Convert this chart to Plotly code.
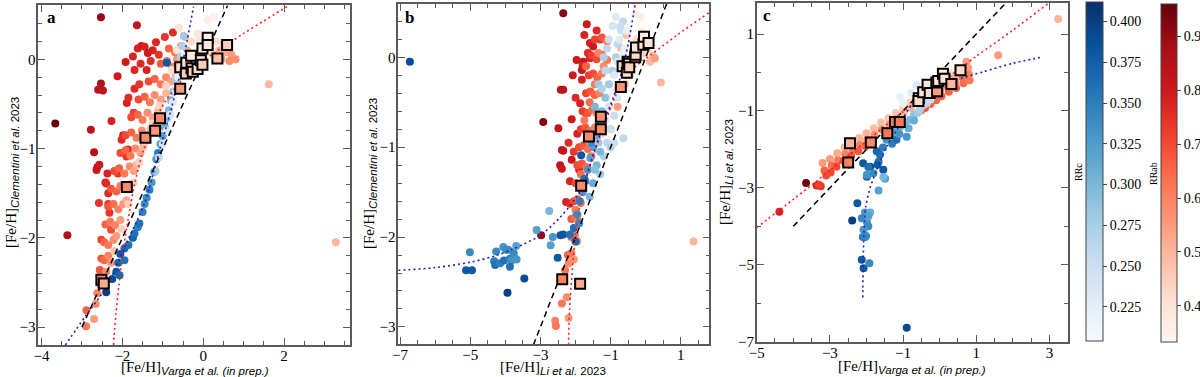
import plotly.graph_objects as go
import plotly.colors as pc

# ---------------- data (x, y, period) ----------------
# Panel a: [Fe/H] Varga vs Clementini
a_rrab = [
    (-2.53, 0.47, 0.90), (-1.64, 0.38, 0.82), (-3.66, -0.72, 0.96), (-3.36, -1.97, 0.86), (-2.78, -0.79, 0.84),
    (-2.70, -1.04, 0.84), (-2.62, -1.21, 0.83), (-2.57, -1.18, 0.80), (-2.53, -0.27, 0.86), (-2.60, -0.34, 0.84),
    (-2.48, -0.35, 0.83), (-1.92, -0.03, 0.80), (-2.12, -0.19, 0.80), (-2.27, -0.69, 0.78), (-2.42, -1.38, 0.78),
    (-2.58, -1.61, 0.74), (-2.37, -1.28, 0.78), (-1.74, 0.03, 0.78), (-1.70, -0.12, 0.77), (-1.62, 0.12, 0.78),
    (-1.53, 0.15, 0.80), (-1.45, 0.14, 0.78), (-1.37, 0.07, 0.80), (-1.25, 0.10, 0.78), (-1.17, 0.19, 0.77),
    (-1.30, -0.02, 0.76), (-1.40, -0.12, 0.78), (-1.89, -0.49, 0.78), (-1.85, -0.43, 0.76), (-1.70, -0.33, 0.76),
    (-1.58, -0.28, 0.74), (-1.98, -0.85, 0.78), (-2.02, -0.90, 0.76), (-1.86, -1.01, 0.76), (-1.90, -1.09, 0.74),
    (-2.11, -1.28, 0.74), (-2.35, -1.50, 0.76), (-2.35, -1.62, 0.74), (-0.75, 0.30, 0.76), (-1.72, -0.60, 0.72),
    (-2.64, -1.24, 0.80), (-2.40, -1.39, 0.76), (-2.32, -1.72, 0.74), (-2.52, -2.02, 0.72), (-2.28, -1.91, 0.70),
    (-2.52, -2.23, 0.68), (-2.56, -2.36, 0.68), (-0.95, 0.25, 0.74), (-1.10, 0.05, 0.74), (-1.55, -0.05, 0.76),
    (-2.45, -2.45, 0.62), (-2.40, -2.38, 0.58),
    (-2.45, -2.25, 0.65), (-2.35, -2.20, 0.60), (-2.28, -2.28, 0.56),
    (-2.45, -2.05, 0.66), (-2.35, -2.08, 0.62), (-2.22, -2.02, 0.58), (-2.15, -1.98, 0.55),
    (-2.42, -1.85, 0.66), (-2.30, -1.82, 0.62), (-2.18, -1.86, 0.60), (-2.05, -1.80, 0.55),
    (-2.35, -1.65, 0.68), (-2.22, -1.62, 0.64), (-2.10, -1.68, 0.60), (-1.98, -1.62, 0.56), (-1.90, -1.58, 0.52),
    (-2.28, -1.45, 0.68), (-2.15, -1.48, 0.66), (-2.05, -1.42, 0.62), (-1.95, -1.45, 0.58), (-1.82, -1.40, 0.52),
    (-2.20, -1.25, 0.70), (-2.08, -1.22, 0.66), (-1.95, -1.28, 0.62), (-1.82, -1.20, 0.58), (-1.72, -1.25, 0.54),
    (-1.65, -1.18, 0.50),
    (-2.05, -1.05, 0.70), (-1.92, -1.02, 0.66), (-1.80, -1.08, 0.62), (-1.68, -1.00, 0.58), (-1.55, -1.05, 0.54),
    (-1.48, -0.98, 0.50),
    (-1.92, -0.85, 0.70), (-1.78, -0.82, 0.66), (-1.65, -0.88, 0.62), (-1.52, -0.80, 0.58), (-1.40, -0.85, 0.54),
    (-1.30, -0.78, 0.50),
    (-1.78, -0.65, 0.70), (-1.62, -0.62, 0.66), (-1.50, -0.68, 0.62), (-1.38, -0.60, 0.58), (-1.25, -0.65, 0.54),
    (-1.12, -0.58, 0.50),
    (-1.60, -0.45, 0.70), (-1.45, -0.42, 0.66), (-1.32, -0.48, 0.62), (-1.20, -0.40, 0.58), (-1.05, -0.45, 0.54),
    (-0.92, -0.38, 0.50),
    (-1.35, -0.25, 0.70), (-1.20, -0.22, 0.66), (-1.05, -0.28, 0.62), (-0.92, -0.20, 0.58), (-0.80, -0.25, 0.54),
    (-0.68, -0.18, 0.50),
    (-1.05, -0.05, 0.68), (-0.90, -0.02, 0.64), (-0.78, -0.08, 0.60), (-0.65, 0.00, 0.56), (-0.50, -0.05, 0.52),
    (-0.35, 0.00, 0.48),
    (-0.85, 0.12, 0.66), (-0.70, 0.08, 0.62), (-0.55, 0.15, 0.58), (-0.40, 0.10, 0.52),
    (-2.20, -2.15, 0.48), (-2.02, -1.90, 0.45), (-1.85, -1.62, 0.45), (-1.72, -1.38, 0.44), (-1.58, -1.15, 0.44),
    (-1.42, -0.92, 0.44), (-1.25, -0.72, 0.44), (-1.08, -0.52, 0.44), (-0.92, -0.30, 0.44), (-0.78, -0.12, 0.42),
    (-0.65, 0.10, 0.40), (-0.60, 0.35, 0.40),
    (-0.20, 0.05, 0.45), (0.05, 0.08, 0.42), (0.25, 0.05, 0.45), (0.40, 0.10, 0.50), (0.55, 0.08, 0.52),
    (0.70, 0.05, 0.55), (0.80, 0.00, 0.58), (0.65, -0.02, 0.58), (0.45, 0.00, 0.55), (0.15, 0.18, 0.40),
    (-0.10, 0.22, 0.38), (0.30, 0.20, 0.42), (0.50, 0.18, 0.48), (-0.14, 0.29, 0.38), (0.11, 0.44, 0.36),
    (0.27, 0.48, 0.35), (-0.30, 0.20, 0.42), (-0.45, 0.25, 0.50), (0.00, -0.08, 0.48), (-0.15, -0.10, 0.50),
    (-2.90, -2.99, 0.62), (-2.89, -2.81, 0.66), (-2.66, -2.74, 0.58), (-2.70, -2.91, 0.55), (-2.62, -2.62, 0.60),
    (-2.55, -2.52, 0.64), (1.62, -0.28, 0.50), (3.28, -2.05, 0.50),
]
a_rrc = [
    (-2.40, -2.61, 0.40), (-2.25, -2.46, 0.39), (-2.15, -2.38, 0.38), (-2.07, -2.42, 0.37), (-2.10, -2.28, 0.37),
    (-1.95, -2.25, 0.36), (-2.05, -2.18, 0.38), (-1.95, -2.12, 0.37), (-1.85, -2.08, 0.36), (-1.74, -2.00, 0.37),
    (-1.70, -1.95, 0.36), (-1.62, -1.88, 0.35), (-1.58, -1.84, 0.36), (-1.50, -1.71, 0.35), (-1.45, -1.62, 0.34),
    (-1.40, -1.55, 0.34), (-1.33, -1.46, 0.35), (-1.28, -1.38, 0.33), (-1.21, -1.26, 0.34), (-1.16, -1.12, 0.33),
    (-1.12, -1.05, 0.35), (-1.06, -0.95, 0.32), (-1.00, -0.86, 0.32), (-0.95, -0.76, 0.31), (-0.90, -0.66, 0.30),
    (-0.85, -0.57, 0.30), (-0.80, -0.46, 0.30), (-0.74, -0.36, 0.29), (-0.67, -0.23, 0.28), (-0.60, -0.10, 0.28),
    (-0.55, 0.03, 0.27), (-0.52, 0.15, 0.27), (-0.48, 0.26, 0.28), (-0.90, -0.04, 0.38),
    (-1.00, -0.95, 0.24), (-0.90, -0.80, 0.23), (-0.82, -0.62, 0.24), (-0.75, -0.48, 0.23), (-0.68, -0.35, 0.24),
    (-0.62, -0.20, 0.22), (-0.55, -0.08, 0.23), (-0.45, 0.05, 0.22), (-1.10, -1.10, 0.26), (-1.18, -1.25, 0.28),
]
a_squares = [
    (-2.52, -2.47, 0.60), (-2.46, -2.51, 0.52), (-1.89, -1.43, 0.58), (-1.43, -0.88, 0.58), (-1.19, -0.80, 0.56),
    (-1.07, -0.66, 0.58), (-0.57, -0.33, 0.55), (-0.57, -0.09, 0.42), (-0.43, -0.16, 0.45), (-0.42, -0.04, 0.40),
    (-0.30, 0.04, 0.38), (-0.29, -0.10, 0.42), (-0.26, -0.14, 0.45), (-0.14, -0.11, 0.42), (-0.06, -0.01, 0.38),
    (-0.02, -0.06, 0.45), (-0.02, 0.12, 0.38), (0.11, 0.24, 0.36), (0.11, 0.16, 0.38), (0.35, 0.01, 0.48),
    (0.59, 0.16, 0.45),
]
a_fit_ab = [(-2.22, -3.2), (-2.16, -2.85), (-2.09, -2.55), (-1.99, -2.17), (-1.86, -1.80), (-1.70, -1.40),
            (-1.50, -1.05), (-1.25, -0.74), (-0.95, -0.48), (-0.60, -0.27), (-0.20, -0.08), (0.20, 0.05),
            (0.60, 0.17), (1.00, 0.29), (1.50, 0.43), (2.07, 0.59)]
a_fit_c = [(-3.41, -3.2), (-2.92, -2.88), (-2.40, -2.55), (-1.86, -2.02), (-1.45, -1.61), (-1.12, -1.08),
           (-0.80, -0.57), (-0.51, -0.04), (-0.24, 0.59)]
a_one2one = [(-3.0, -3.0), (0.6, 0.6)]

# Panel b: [Fe/H] Li vs Clementini
b_rrab = [
    (-2.35, 0.49, 0.92), (-1.68, 0.37, 0.80), (-1.97, -0.03, 0.80), (-1.78, -0.05, 0.82), (-1.59, -0.01, 0.78),
    (-1.59, 0.16, 0.78), (-1.50, 0.12, 0.80), (-1.80, -0.09, 0.78), (-1.82, -0.14, 0.80), (-2.08, -0.20, 0.80),
    (-1.82, -0.25, 0.78), (-2.35, -0.36, 0.82), (-2.42, -0.36, 0.84), (-2.92, -0.72, 0.93), (-2.49, -0.79, 0.82),
    (-2.11, -0.69, 0.80), (-1.87, -0.51, 0.78), (-2.39, -1.03, 0.80), (-2.35, -1.04, 0.82), (-2.11, -1.14, 0.80),
    (-2.44, -1.20, 0.82), (-2.39, -1.24, 0.80), (-2.16, -1.38, 0.78), (-2.27, -1.61, 0.78), (-2.16, -1.63, 0.76),
    (-2.98, -1.98, 0.90), (-1.75, 0.25, 0.78), (-1.65, 0.05, 0.76), (-2.00, -0.45, 0.76), (-1.95, -0.85, 0.78),
    (-2.20, -0.95, 0.76), (-1.90, -1.25, 0.76), (-1.70, -0.62, 0.76), (-1.40, 0.30, 0.76), (-1.30, 0.20, 0.74),
    (-2.05, -1.05, 0.74),
    (-1.45, 0.20, 0.72), (-1.25, 0.22, 0.68), (-1.10, 0.18, 0.62),
    (-1.55, 0.02, 0.72), (-1.40, -0.02, 0.70), (-1.25, 0.03, 0.66), (-1.10, -0.03, 0.62),
    (-1.62, -0.20, 0.72), (-1.50, -0.18, 0.70), (-1.38, -0.22, 0.66), (-1.25, -0.18, 0.62),
    (-1.70, -0.40, 0.72), (-1.58, -0.38, 0.68), (-1.45, -0.42, 0.66), (-1.32, -0.40, 0.60),
    (-1.80, -0.60, 0.72), (-1.65, -0.62, 0.68), (-1.52, -0.58, 0.64), (-1.40, -0.62, 0.60),
    (-1.85, -0.80, 0.72), (-1.72, -0.78, 0.68), (-1.58, -0.82, 0.64), (-1.45, -0.78, 0.60),
    (-1.90, -1.00, 0.70), (-1.78, -0.98, 0.68), (-1.65, -1.02, 0.64), (-1.52, -0.98, 0.60),
    (-1.95, -1.20, 0.70), (-1.82, -1.18, 0.68), (-1.70, -1.22, 0.64),
    (-2.00, -1.40, 0.70), (-1.90, -1.42, 0.66), (-1.78, -1.38, 0.62),
    (-2.05, -1.60, 0.70), (-1.95, -1.58, 0.66), (-1.85, -1.62, 0.62),
    (-2.12, -1.80, 0.68), (-2.02, -1.78, 0.64), (-1.92, -1.82, 0.60),
    (-2.12, -2.00, 0.66), (-2.02, -1.98, 0.62), (-1.95, -2.05, 0.56),
    (-2.22, -2.20, 0.66), (-2.12, -2.18, 0.62), (-2.05, -2.25, 0.56),
    (-1.70, -0.10, 0.66), (-1.60, -0.50, 0.64), (-1.75, -0.70, 0.62), (-1.85, -1.30, 0.64), (-1.65, -0.90, 0.60),
    (-1.55, -1.10, 0.62), (-2.00, -1.70, 0.62), (-1.45, -0.30, 0.62), (-1.35, 0.05, 0.60), (-1.20, -0.10, 0.58),
    (-2.30, -2.37, 0.62), (-2.20, -2.29, 0.58), (-2.39, -2.74, 0.62), (-2.58, -2.93, 0.60), (-2.56, -2.99, 0.62),
    (-2.20, -2.90, 0.55), (-2.25, -2.67, 0.58),
    (-0.26, 0.20, 0.42), (-0.10, 0.28, 0.40), (0.05, 0.10, 0.45), (0.20, 0.02, 0.48), (0.12, -0.05, 0.50),
    (-0.05, 0.05, 0.45), (-0.30, 0.48, 0.38), (-0.15, 0.45, 0.36), (-0.45, -0.20, 0.50), (-0.60, -0.30, 0.52),
    (-0.80, -0.55, 0.55), (-1.00, -0.80, 0.55), (-0.70, 0.10, 0.50), (-0.55, 0.25, 0.48), (0.26, -0.01, 0.55),
    (0.43, -0.28, 0.50), (1.36, -2.05, 0.50),
]
b_rrc = [
    (-6.72, -0.05, 0.39),
    (-5.12, -2.37, 0.38), (-4.95, -2.37, 0.38), (-5.01, -2.17, 0.34), (-4.26, -2.16, 0.34), (-4.32, -2.27, 0.35),
    (-4.29, -2.31, 0.36), (-4.06, -2.11, 0.33), (-3.98, -2.14, 0.34), (-3.92, -2.14, 0.34), (-4.15, -2.29, 0.35),
    (-4.04, -2.26, 0.36), (-3.87, -2.24, 0.35), (-3.82, -2.26, 0.33), (-3.72, -2.24, 0.33), (-3.69, -2.10, 0.32),
    (-3.87, -2.33, 0.36), (-3.76, -2.18, 0.34), (-3.68, -2.25, 0.33), (-3.46, -2.46, 0.39), (-3.94, -2.62, 0.40),
    (-2.75, -1.71, 0.30), (-3.11, -1.92, 0.32), (-2.65, -2.00, 0.33), (-2.71, -2.09, 0.32), (-2.43, -1.98, 0.38),
    (-2.35, -1.97, 0.38), (-2.16, -1.97, 0.36), (-2.51, -2.23, 0.38), (-1.84, -1.09, 0.38),
    (-2.05, -1.90, 0.36), (-1.95, -1.75, 0.34), (-1.88, -1.60, 0.35), (-1.80, -1.50, 0.33), (-1.72, -1.38, 0.34),
    (-1.65, -1.25, 0.33), (-1.58, -1.12, 0.32), (-1.50, -1.00, 0.32), (-1.42, -0.88, 0.31), (-1.35, -0.75, 0.30),
    (-1.25, -0.60, 0.30), (-1.15, -0.45, 0.29), (-1.05, -0.30, 0.28), (-0.95, -0.15, 0.27), (-0.85, 0.00, 0.27),
    (-0.80, 0.15, 0.26), (-0.70, 0.30, 0.25), (-0.65, 0.40, 0.26),
    (-1.30, -1.30, 0.28), (-1.20, -1.10, 0.27), (-1.10, -0.95, 0.26), (-1.00, -0.80, 0.25), (-0.90, -0.65, 0.25),
    (-0.82, -0.45, 0.24), (-0.75, -0.30, 0.23), (-0.68, -0.10, 0.23), (-0.60, 0.10, 0.22), (-0.55, 0.30, 0.22),
    (-0.64, -0.90, 0.26), (-1.60, -1.55, 0.30), (-1.50, -1.40, 0.31), (-1.40, -1.20, 0.30), (-1.30, -1.05, 0.30),
    (-1.90, -1.85, 0.34), (-2.00, -2.05, 0.37), (-1.75, -1.35, 0.36), (-1.55, -0.95, 0.34), (-1.45, -0.55, 0.30),
    (-1.35, -0.30, 0.28), (-1.20, 0.00, 0.27), (-1.05, 0.20, 0.25), (-0.73, 0.34, 0.25), (-1.11, 0.10, 0.26),
    (-1.25, -0.85, 0.24), (-1.15, -0.70, 0.23), (-1.05, -0.55, 0.24), (-0.95, -0.40, 0.22), (-0.90, -0.20, 0.23),
    (-0.80, -0.05, 0.24), (-0.75, 0.20, 0.23), (-0.65, 0.05, 0.22), (-1.45, -1.25, 0.29), (-1.35, -0.95, 0.28),
    (-1.25, -0.35, 0.27), (-1.15, -0.15, 0.26), (-0.95, 0.35, 0.24), (-0.85, 0.45, 0.23), (-1.00, -1.00, 0.27),
    (-0.90, -0.95, 0.25),
]
b_squares = [
    (-2.38, -2.47, 0.60), (-1.87, -2.52, 0.52), (-1.84, -1.43, 0.58), (-1.62, -0.88, 0.58), (-1.28, -0.80, 0.58),
    (-1.28, -0.66, 0.58), (-0.71, -0.33, 0.56), (-0.66, -0.10, 0.42), (-0.52, -0.05, 0.42), (-0.54, -0.17, 0.42),
    (-0.48, -0.07, 0.44), (-0.47, -0.11, 0.45), (-0.30, 0.00, 0.48), (-0.29, 0.03, 0.42), (-0.28, 0.11, 0.40),
    (-0.07, 0.14, 0.40), (-0.05, 0.23, 0.36), (0.08, 0.16, 0.40),
]
b_fit_ab = [(-2.20, -3.2), (-2.17, -2.8), (-2.12, -2.5), (-2.02, -2.05), (-1.88, -1.65), (-1.72, -1.38),
            (-1.45, -1.05), (-1.15, -0.72), (-0.83, -0.40), (-0.40, -0.14), (0.15, 0.03), (0.90, 0.25), (1.81, 0.50)]
b_fit_c = [(-7.05, -2.37), (-6.0, -2.34), (-5.0, -2.28), (-4.3, -2.21), (-3.77, -2.13), (-3.0, -1.98),
           (-2.44, -1.78), (-2.0, -1.57), (-1.78, -1.42), (-1.45, -1.02), (-1.11, -0.64), (-0.73, -0.23),
           (-0.50, 0.15), (-0.30, 0.60)]
b_one2one = [(-3.2, -3.2), (0.6, 0.6)]

# Panel c: [Fe/H] Varga vs Li
c_rrab = [
    (-4.38, -3.62, 0.78), (-3.65, -2.87, 0.95), (-3.36, -2.94, 0.78), (-3.25, -2.96, 0.75), (-3.30, -2.92, 0.72),
    (-3.20, -2.35, 0.55), (-3.15, -2.55, 0.66), (-3.10, -2.68, 0.70),
    (-3.00, -2.25, 0.55), (-2.95, -2.42, 0.64), (-2.98, -2.60, 0.70),
    (-2.80, -2.10, 0.52), (-2.78, -2.28, 0.62), (-2.82, -2.45, 0.70),
    (-2.60, -1.95, 0.50), (-2.58, -2.12, 0.60), (-2.62, -2.30, 0.68),
    (-2.40, -1.85, 0.52), (-2.38, -2.02, 0.62), (-2.42, -2.18, 0.68),
    (-2.20, -1.70, 0.50), (-2.18, -1.88, 0.60), (-2.22, -2.05, 0.68),
    (-2.00, -1.58, 0.50), (-1.98, -1.75, 0.58), (-2.02, -1.92, 0.66),
    (-1.80, -1.45, 0.48), (-1.78, -1.62, 0.58), (-1.82, -1.78, 0.66),
    (-1.60, -1.30, 0.48), (-1.58, -1.48, 0.58),
    (-1.40, -1.18, 0.46), (-1.38, -1.35, 0.55),
    (-1.20, -1.05, 0.46), (-1.18, -1.20, 0.52),
    (-1.00, -0.92, 0.45), (-0.98, -1.05, 0.50),
    (-0.80, -0.78, 0.45), (-0.78, -0.92, 0.50),
    (-0.60, -0.65, 0.45), (-0.50, -0.98, 0.66), (-0.40, -0.92, 0.68),
    (-0.40, -0.52, 0.48), (-0.38, -0.68, 0.55), (-0.25, -0.82, 0.66),
    (-0.20, -0.40, 0.50), (-0.18, -0.58, 0.58), (-0.10, -0.72, 0.66),
    (0.00, -0.30, 0.50), (0.02, -0.45, 0.58), (0.05, -0.62, 0.66),
    (0.20, -0.18, 0.52), (0.22, -0.35, 0.60), (0.25, -0.50, 0.66),
    (0.40, -0.08, 0.52), (0.42, -0.25, 0.62), (0.45, -0.40, 0.66),
    (0.60, 0.05, 0.52), (0.62, -0.12, 0.62), (0.65, -0.28, 0.64),
    (0.78, 0.12, 0.55), (0.80, -0.05, 0.60), (0.82, -0.20, 0.62),
    (0.73, 0.28, 0.55), (1.60, 0.45, 0.55), (3.24, 1.39, 0.50), (0.50, 0.10, 0.45), (0.25, 0.00, 0.42),
]
c_rrc = [
    (-1.63, -2.14, 0.36), (-1.54, -2.53, 0.38), (-1.90, -2.45, 0.39), (-1.99, -2.71, 0.37), (-1.49, -2.76, 0.32),
    (-1.45, -1.75, 0.33), (-1.30, -1.85, 0.35), (-1.18, -1.75, 0.36), (-0.90, -1.67, 0.33), (-1.08, -1.41, 0.31),
    (-1.25, -1.55, 0.32), (-1.40, -1.60, 0.34), (-0.95, -1.30, 0.30), (-0.81, -1.23, 0.30), (-0.70, -1.10, 0.29),
    (-0.60, -1.05, 0.28), (-0.54, -0.97, 0.27), (-0.45, -0.85, 0.27), (-0.35, -0.80, 0.26), (-0.25, -0.70, 0.25),
    (-0.70, -1.25, 0.31), (-1.10, -1.60, 0.33), (-1.55, -1.95, 0.35), (-1.72, -2.05, 0.37), (-1.00, -0.80, 0.22),
    (-0.77, -0.54, 0.23), (-0.63, -0.33, 0.23), (-1.08, -0.63, 0.22), (-0.45, -0.40, 0.22), (-0.85, -1.45, 0.31),
    (-2.09, -2.36, 0.38), (-1.95, -2.46, 0.36), (-1.99, -2.66, 0.33), (-1.81, -2.62, 0.34), (-1.67, -2.32, 0.36),
    (-1.70, -2.40, 0.38), (-1.54, -2.72, 0.30), (-1.67, -3.07, 0.32), (-2.25, -3.40, 0.38), (-2.39, -3.85, 0.40),
    (-2.04, -3.64, 0.33), (-1.90, -3.64, 0.31), (-2.13, -3.79, 0.34), (-1.99, -3.88, 0.33), (-1.95, -4.00, 0.34),
    (-2.08, -4.09, 0.33), (-2.04, -4.28, 0.36), (-2.10, -4.28, 0.35), (-2.01, -4.25, 0.34), (-2.13, -4.87, 0.38),
    (-2.08, -5.09, 0.38), (-1.92, -4.96, 0.34), (-1.95, -3.74, 0.32), (-0.90, -6.64, 0.39),
]
c_squares = [
    (-2.45, -1.84, 0.50), (-2.50, -2.34, 0.60), (-1.88, -1.82, 0.58), (-1.43, -1.58, 0.62), (-1.22, -1.29, 0.62),
    (-1.09, -1.29, 0.62), (-0.57, -0.67, 0.40), (-0.58, -0.74, 0.42), (-0.45, -0.51, 0.40), (-0.33, -0.32, 0.38),
    (-0.27, -0.53, 0.42), (-0.07, -0.49, 0.55), (-0.09, -0.26, 0.40), (-0.04, -0.22, 0.38), (0.09, -0.03, 0.36),
    (0.13, -0.16, 0.40), (0.32, -0.30, 0.50), (0.57, 0.06, 0.42),
]
c_fit_ab = [(-5.0, -4.03), (-4.0, -3.30), (-3.0, -2.55), (-2.0, -1.78), (-1.0, -1.02), (0.0, -0.30),
            (1.0, 0.42), (2.0, 1.10), (2.97, 1.80)]
c_fit_c = [(-2.10, -5.85), (-2.09, -5.0), (-2.07, -4.2), (-2.02, -3.5), (-1.90, -3.0), (-1.72, -2.53),
           (-1.45, -1.93), (-1.17, -1.49), (-0.86, -0.97), (-0.54, -0.63), (0.0, -0.37), (0.46, -0.19),
           (1.2, 0.02), (2.0, 0.24), (2.74, 0.39)]
c_one2one = [(-4.0, -4.0), (1.8, 1.8)]

rrc_ticks = [0.225, 0.250, 0.275, 0.300, 0.325, 0.350, 0.375, 0.400]
rrab_ticks = [0.4, 0.5, 0.6, 0.7, 0.8, 0.9]

# ---------------- figure ----------------
W, H = 1200, 377
SERIF = "Liberation Serif"
FRAME = "#5a5a5a"

fig = go.Figure()


def px_x(p):
    return p / W


def px_y(p):
    return 1 - p / H


panels = [
    dict(pts=(a_rrab, a_rrc, a_squares, a_fit_ab, a_fit_c, a_one2one), xa="x", ya="y"),
    dict(pts=(b_rrab, b_rrc, b_squares, b_fit_ab, b_fit_c, b_one2one), xa="x2", ya="y2"),
    dict(pts=(c_rrab, c_rrc, c_squares, c_fit_ab, c_fit_c, c_one2one), xa="x3", ya="y3"),
]

for pnl in panels:
    rrab, rrc, sq, fab, fc, one = pnl["pts"]
    xa, ya = pnl["xa"], pnl["ya"]
    fig.add_trace(go.Scatter(
        x=[p[0] for p in rrab], y=[p[1] for p in rrab], mode="markers", xaxis=xa, yaxis=ya,
        marker=dict(size=8, color=[p[2] for p in rrab], coloraxis="coloraxis", line=dict(width=0)),
        hoverinfo="skip"))
    fig.add_trace(go.Scatter(
        x=[p[0] for p in rrc], y=[p[1] for p in rrc], mode="markers", xaxis=xa, yaxis=ya,
        marker=dict(size=8, color=[p[2] for p in rrc], coloraxis="coloraxis2", line=dict(width=0)),
        hoverinfo="skip"))
    fig.add_trace(go.Scatter(
        x=[p[0] for p in one], y=[p[1] for p in one], mode="lines", xaxis=xa, yaxis=ya,
        line=dict(color="black", width=1.5, dash="6px,4px"), hoverinfo="skip"))
    fig.add_trace(go.Scatter(
        x=[p[0] for p in fab], y=[p[1] for p in fab], mode="lines", xaxis=xa, yaxis=ya,
        line=dict(color="#ff2020", width=1.6, dash="2px,3px", shape="spline", smoothing=0.8), hoverinfo="skip"))
    fig.add_trace(go.Scatter(
        x=[p[0] for p in fc], y=[p[1] for p in fc], mode="lines", xaxis=xa, yaxis=ya,
        line=dict(color="#2323b8", width=1.6, dash="2px,3px", shape="spline", smoothing=0.8), hoverinfo="skip"))
    fig.add_trace(go.Scatter(
        x=[p[0] for p in sq], y=[p[1] for p in sq], mode="markers", xaxis=xa, yaxis=ya,
        marker=dict(symbol="square", size=10, color=[p[2] for p in sq], coloraxis="coloraxis",
                    line=dict(width=2, color="black")),
        hoverinfo="skip"))


def axis(dom, rng, tick0, dtick, minor, anchor, standoff):
    return dict(domain=dom, range=rng, anchor=anchor, tickmode="linear", tick0=tick0, dtick=dtick,
                automargin=False, ticklabelstandoff=standoff,
                ticks="inside", ticklen=7, tickwidth=1, tickcolor=FRAME, showline=True, linecolor=FRAME,
                linewidth=1.6, mirror="allticks", showgrid=False, zeroline=False,
                minor=dict(ticks="inside", ticklen=4, tickwidth=1, tickcolor=FRAME, dtick=minor, tick0=tick0),
                tickfont=dict(family=SERIF, size=15, color="black"))


fig.update_layout(
    template="none",
    width=W, height=H, margin=dict(l=0, r=0, t=0, b=0, autoexpand=False),
    paper_bgcolor="white", plot_bgcolor="white", showlegend=False,
    xaxis=axis([px_x(38.3), px_x(350)], [-4.08, 3.63], -4, 2, 0.5, "y", -4),
    yaxis=axis([px_y(345), px_y(5)], [-3.2, 0.608], -3, 1, 0.2, "x", -2),
    xaxis2=axis([px_x(398.3), px_x(709.3)], [-7.05, 1.81], -7, 2, 0.5, "y2", -4),
    yaxis2=axis([px_y(344), px_y(4)], [-3.19, 0.594], -3, 1, 0.2, "x2", -2),
    xaxis3=axis([px_x(756.7), px_x(1067.7)], [-5.0, 3.5], -5, 2, 0.5, "y3", -4),
    yaxis3=axis([px_y(341.7), px_y(3.3)], [-7.0, 1.8], -7, 2, 1, "x3", -2),
    coloraxis=dict(
        colorscale=pc.sequential.Reds, cmin=0.333, cmax=0.96,
        colorbar=dict(x=px_x(1161), xanchor="left", xpad=0, ypad=0, thickness=16, lenmode="fraction",
                      len=338 / H, y=px_y(173), yanchor="middle", outlinewidth=1, outlinecolor="#444",
                      tickmode="array", tickvals=rrab_ticks, ticktext=[f"{v:.1f}" for v in rrab_ticks],
                      ticks="outside", ticklen=4, tickcolor="#444",
                      tickfont=dict(family=SERIF, size=14, color="black"))),
    coloraxis2=dict(
        colorscale=pc.sequential.Blues, cmin=0.204, cmax=0.412,
        colorbar=dict(x=px_x(1086), xanchor="left", xpad=0, ypad=0, thickness=17, lenmode="fraction",
                      len=339 / H, y=px_y(171.5), yanchor="middle", outlinewidth=1, outlinecolor="#444",
                      tickmode="array", tickvals=rrc_ticks, ticktext=[f"{v:.3f}" for v in rrc_ticks],
                      ticks="outside", ticklen=4, tickcolor="#444",
                      tickfont=dict(family=SERIF, size=14, color="black"))),
)

SUB = "<sub><span style='font-family:Liberation Sans;font-size:11.5px'><i>{}</i></span></sub>"
SUB2 = "<sub><span style='font-family:Liberation Sans;font-size:11.5px'><i>{}</i> {}</span></sub>"
ann = [
    ("[Fe/H]" + SUB.format("Varga et al. (in prep.)"), 195, 368, 0),
    ("[Fe/H]" + SUB2.format("Li et al.", "2023"), 553, 368, 0),
    ("[Fe/H]" + SUB.format("Varga et al. (in prep.)"), 912, 367, 0),
    ("[Fe/H]" + SUB2.format("Clementini et al.", "2023"), 12, 173, -90),
    ("[Fe/H]" + SUB2.format("Clementini et al.", "2023"), 370, 174, -90),
    ("[Fe/H]" + SUB2.format("Li et al.", "2023"), 726, 172, -90),
]
for txt, x, y, ang in ann:
    fig.add_annotation(text=txt, x=px_x(x), y=px_y(y), xref="paper", yref="paper", showarrow=False,
                       textangle=ang, xanchor="center", yanchor="middle",
                       font=dict(family=SERIF, size=15, color="black"))

for lab, x, y in [("a", 51, 18), ("b", 409, 17), ("c", 767, 16)]:
    fig.add_annotation(text=f"<b>{lab}</b>", x=px_x(x), y=px_y(y), xref="paper", yref="paper",
                       showarrow=False, xanchor="center", yanchor="middle",
                       font=dict(family=SERIF, size=17, color="black"))

for lab, x, y in [("RRc", 1078, 172), ("RRab", 1153, 174)]:
    fig.add_annotation(text=lab, x=px_x(x), y=px_y(y), xref="paper", yref="paper", showarrow=False,
                       textangle=-90, xanchor="center", yanchor="middle",
                       font=dict(family=SERIF, size=10, color="black"))

fig.write_html("out.html", config={"displayModeBar": False},
               post_script="document.body.style.margin='0px';")
